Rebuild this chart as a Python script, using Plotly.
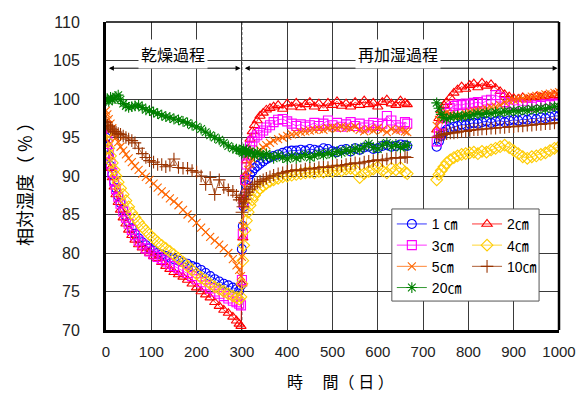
import plotly.graph_objects as go

# Measurement days: drying phase, re-wetting phase (part 1), re-wetting phase (part 2)
days_dry = [0, 3, 6, 10, 14, 18, 22, 27, 32, 38, 44, 50, 57, 64, 72, 80, 88, 96, 105, 114,
            123, 132, 141, 150, 160, 170, 180, 190, 200, 210, 220, 230, 240, 250, 260, 270,
            280, 288, 294, 298]
days_wet1 = [300, 302, 304, 307, 310, 314, 318, 323, 328, 334, 340, 347, 354, 362, 370, 380,
             390, 400, 410, 420, 430, 440, 450, 460, 470, 480, 490, 500, 510, 520, 530, 540,
             550, 560, 570, 580, 590, 600, 610, 620, 630, 640, 650, 660, 665]
days_wet2 = [730, 735, 740, 746, 752, 760, 768, 776, 785, 794, 803, 812, 821, 830, 840, 850,
             860, 870, 880, 890, 900, 910, 920, 930, 940, 950, 960, 970, 980, 990, 1000]

# Relative humidity (%) by depth
rh_1cm_dry = [95.0, 93.8, 92.6, 91.3, 90.2, 89.3, 88.4, 87.4, 86.5, 85.6, 84.8, 84.0, 83.2, 82.5,
              81.9, 81.4, 81.0, 80.6, 80.3, 80.0, 79.8, 79.6, 79.4, 79.2, 79.0, 78.8, 78.6, 78.3,
              78.1, 77.8, 77.4, 77.0, 76.6, 76.3, 76.0, 75.8, 75.5, 75.3, 75.1, 75.8]
rh_1cm_wet1 = [80.5, 83.5, 86.0, 87.8, 88.8, 89.6, 90.2, 90.6, 91.0, 91.3, 91.6, 91.9, 92.2, 92.4,
               92.6, 92.8, 93.0, 93.2, 93.3, 93.3, 93.4, 93.3, 93.5, 93.4, 93.3, 93.6, 93.5, 93.2,
               93.1, 93.4, 93.5, 93.2, 93.6, 93.4, 93.7, 93.8, 93.5, 93.6, 93.9, 94.0, 93.8, 93.9,
               94.1, 94.0, 93.9]
rh_1cm_wet2 = [93.8, 94.5, 95.2, 95.7, 96.0, 96.2, 96.4, 96.5, 96.7, 96.6, 96.8, 96.9, 96.8, 97.0,
               97.1, 96.9, 97.1, 97.2, 97.0, 97.2, 97.3, 97.2, 97.4, 97.3, 97.5, 97.4, 97.6, 97.5,
               97.7, 97.8, 97.8]

rh_2cm_dry = [96.0, 94.2, 92.6, 91.0, 89.8, 88.6, 87.6, 86.6, 85.6, 84.6, 83.8, 83.0, 82.3, 81.7,
              81.1, 80.7, 80.3, 80.0, 79.6, 79.3, 78.8, 78.3, 77.9, 77.5, 77.2, 76.9, 76.5, 76.0,
              75.5, 75.0, 74.6, 74.2, 73.6, 73.1, 72.6, 72.2, 71.7, 71.2, 70.8, 70.5]
rh_2cm_wet1 = [76.0, 82.0, 87.0, 90.0, 92.0, 93.5, 94.8, 95.8, 96.6, 97.2, 97.8, 98.2, 98.6, 98.8,
               99.0, 99.2, 98.7, 99.4, 99.0, 99.5, 98.9, 99.3, 99.6, 99.0, 99.4, 98.8, 99.5, 99.2,
               99.7, 99.1, 99.4, 99.0, 99.6, 99.2, 99.8, 99.3, 99.5, 99.0, 99.6, 99.9, 99.4, 99.2,
               99.8, 99.5, 99.3]
rh_2cm_wet2 = [96.0, 97.5, 98.5, 99.2, 99.6, 100.2, 100.8, 101.2, 101.6, 101.3, 101.8, 102.0,
               101.5, 102.1, 101.7, 101.9, 101.4, 101.0, 100.6, 100.3, 100.1, 100.0, 100.2, 99.9,
               100.1, 100.3, 100.2, 100.4, 100.3, 100.5, 100.4]

rh_3cm_dry = [96.5, 94.5, 93.0, 91.6, 90.4, 89.3, 88.3, 87.3, 86.4, 85.4, 84.6, 83.8, 83.0, 82.3,
              81.6, 81.1, 80.6, 80.2, 79.8, 79.5, 79.2, 78.9, 78.6, 78.3, 78.0, 77.7, 77.4, 77.0,
              76.6, 76.2, 75.8, 75.4, 75.0, 74.7, 74.4, 74.1, 73.8, 73.6, 73.4, 73.2]
rh_3cm_wet1 = [76.5, 82.5, 86.5, 89.5, 91.5, 92.8, 93.8, 94.5, 95.0, 95.3, 95.6, 95.9, 96.3, 96.6,
               97.0, 97.3, 97.4, 97.1, 96.8, 96.5, 96.7, 96.4, 96.6, 96.9, 96.5, 96.8, 97.2, 96.6,
               96.9, 96.4, 96.7, 97.0, 96.5, 96.8, 96.3, 96.6, 96.9, 96.5, 96.8, 97.8, 97.2, 96.6,
               96.3, 97.0, 96.8]
rh_3cm_wet2 = [94.5, 95.5, 96.5, 97.5, 98.2, 98.8, 99.1, 99.3, 99.2, 99.4, 99.3, 99.5, 99.6, 99.4,
               99.8, 99.9, 100.5, 100.2, 99.6, 99.4, 99.2, 99.3, 99.1, 99.2, 99.0, 99.2, 99.1, 99.3,
               99.2, 99.4, 99.3]

rh_4cm_dry = [95.5, 94.5, 93.6, 92.6, 91.7, 90.8, 90.0, 89.2, 88.4, 87.6, 86.8, 86.0, 85.2, 84.6,
              84.0, 83.4, 82.9, 82.4, 81.9, 81.4, 81.0, 80.6, 80.2, 79.8, 79.3, 78.8, 78.3, 77.8,
              77.3, 76.8, 76.4, 76.0, 75.6, 75.3, 75.0, 74.7, 74.4, 74.2, 74.0, 74.3]
rh_4cm_wet1 = [76.0, 79.0, 81.0, 83.0, 84.2, 85.3, 86.2, 86.9, 87.5, 88.0, 88.4, 88.7, 89.0, 89.3,
               89.5, 89.7, 89.9, 90.0, 90.1, 90.2, 90.3, 90.4, 90.5, 90.4, 90.6, 90.5, 90.7, 90.6,
               90.8, 90.7, 90.9, 91.0, 90.8, 89.8, 90.3, 90.6, 90.9, 91.2, 90.7, 90.4, 91.0, 90.8,
               91.1, 90.5, 90.3]
rh_4cm_wet2 = [89.5, 90.2, 90.7, 91.2, 91.7, 92.1, 92.4, 92.6, 92.8, 92.9, 93.0, 93.1, 92.9, 93.2,
               93.1, 93.4, 93.6, 93.8, 94.0, 93.7, 93.3, 92.9, 92.5, 92.3, 92.5, 92.6, 92.8, 93.0,
               93.3, 93.6, 93.8]

rh_5cm_dry = [98.5, 98.0, 97.4, 96.8, 96.2, 95.6, 95.0, 94.4, 93.8, 93.3, 92.8, 92.3, 91.8, 91.3,
              90.8, 90.3, 89.9, 89.5, 89.0, 88.5, 88.0, 87.6, 87.1, 86.7, 86.2, 85.6, 85.0, 84.5,
              83.9, 83.3, 82.7, 82.1, 81.6, 81.1, 80.6, 80.0, 79.2, 78.4, 77.8, 77.0]
rh_5cm_wet1 = [79.5, 83.5, 86.5, 88.5, 89.8, 90.8, 91.6, 92.2, 92.7, 93.1, 93.4, 93.7, 94.0, 94.3,
               94.6, 94.8, 95.0, 95.2, 95.4, 95.5, 95.7, 95.8, 95.9, 96.0, 96.1, 96.0, 96.2, 96.3,
               96.2, 96.4, 96.3, 96.2, 96.4, 96.0, 95.8, 96.1, 95.9, 96.2, 96.0, 95.7, 96.1, 95.9,
               96.0, 95.8, 95.7]
rh_5cm_wet2 = [96.5, 97.3, 97.8, 98.0, 98.2, 98.0, 97.8, 97.7, 97.9, 98.1, 98.3, 98.4, 98.5, 98.6,
               98.7, 98.9, 99.0, 99.2, 99.6, 99.8, 99.9, 100.0, 100.1, 100.2, 100.3, 100.4, 100.5,
               100.6, 100.7, 100.8, 100.9]

rh_10cm_dry = [97.0, 96.6, 96.4, 96.2, 96.0, 95.8, 95.7, 95.5, 95.4, 95.2, 95.0, 94.8, 94.6, 94.3,
               93.6, 92.9, 92.4, 92.0, 91.8, 91.5, 91.5, 91.2, 91.4, 92.2, 91.1, 91.0, 91.0, 90.7,
               90.5, 90.0, 88.9, 89.8, 87.6, 89.5, 88.5, 88.2, 88.0, 87.5, 86.9, 87.2]
rh_10cm_wet1 = [85.3, 86.0, 86.5, 87.0, 87.5, 87.9, 88.3, 88.6, 88.9, 89.1, 89.3, 89.5, 89.7, 89.9,
                90.1, 90.3, 90.4, 90.6, 90.7, 90.8, 90.7, 90.9, 91.0, 90.9, 91.1, 91.2, 91.1, 91.3,
                91.4, 91.3, 91.5, 91.6, 91.7, 91.6, 91.8, 91.9, 92.0, 92.1, 92.0, 92.2, 92.3, 92.4,
                92.3, 92.5, 92.4]
rh_10cm_wet2 = [95.0, 95.2, 95.3, 95.4, 95.5, 95.6, 95.6, 95.7, 95.8, 95.8, 95.9, 96.0, 96.0, 96.1,
                96.1, 96.2, 96.2, 96.3, 96.3, 96.4, 96.4, 96.5, 96.5, 96.6, 96.6, 96.7, 96.7, 96.8,
                96.8, 96.9, 96.9]

rh_20cm_dry = [99.8, 100.0, 99.7, 100.2, 99.9, 100.1, 100.3, 100.5, 99.9, 99.4, 99.1, 98.9, 99.0,
               99.1, 99.2, 98.9, 98.6, 98.5, 98.3, 98.1, 97.9, 97.7, 97.6, 97.4, 97.3, 97.1, 96.9,
               96.6, 96.4, 96.1, 95.7, 95.3, 95.0, 94.7, 94.3, 93.9, 93.6, 93.5, 93.4, 93.3]
rh_20cm_wet1 = [93.2, 93.0, 93.5, 93.1, 93.4, 92.9, 93.2, 93.0, 92.6, 93.1, 92.8, 92.5, 92.9, 92.6,
                92.3, 92.7, 92.4, 92.2, 92.6, 92.3, 92.5, 92.8, 92.4, 92.6, 92.9, 92.7, 93.0, 92.8,
                93.2, 93.0, 93.4, 93.2, 93.6, 93.4, 93.8, 94.2, 93.7, 93.5, 94.0, 94.3, 93.8, 94.1,
                93.7, 93.9, 94.0]
rh_20cm_wet2 = [99.5, 98.8, 98.0, 97.6, 97.4, 97.6, 97.7, 97.8, 97.7, 97.9, 97.8, 98.0, 98.1, 98.0,
                98.2, 98.1, 98.3, 98.2, 98.4, 98.3, 98.5, 98.4, 98.6, 98.5, 98.7, 98.6, 98.8, 98.7,
                98.9, 99.0, 99.0]

depth_labels = ["1 ㎝", "2㎝", "3㎝", "4㎝", "5㎝", "10㎝", "20㎝"]
series_dry = [rh_1cm_dry, rh_2cm_dry, rh_3cm_dry, rh_4cm_dry, rh_5cm_dry, rh_10cm_dry, rh_20cm_dry]
series_wet1 = [rh_1cm_wet1, rh_2cm_wet1, rh_3cm_wet1, rh_4cm_wet1, rh_5cm_wet1, rh_10cm_wet1, rh_20cm_wet1]
series_wet2 = [rh_1cm_wet2, rh_2cm_wet2, rh_3cm_wet2, rh_4cm_wet2, rh_5cm_wet2, rh_10cm_wet2, rh_20cm_wet2]

colors = ["#0000FF", "#FF0000", "#FF00FF", "#FFCC00", "#FF6600", "#993300", "#008000"]
symbols = ["circle-open", "triangle-up-open", "square-open", "diamond-open",
           "x-thin-open", "cross-thin-open", "asterisk-open"]
sizes = [9, 9, 9, 9, 8, 9, 9]
legend_ids = ["legend", "legend2", "legend", "legend2", "legend", "legend2", "legend"]

TICK_FONT = "Liberation Sans, Arial, sans-serif"
JP_FONT = "Noto Sans CJK JP, sans-serif"

fig = go.Figure()
for i, name in enumerate(depth_labels):
    # a None between the two re-wetting periods breaks the line across the gap
    x = days_dry + days_wet1 + [None] + days_wet2
    y = series_dry[i] + series_wet1[i] + [None] + series_wet2[i]
    fig.add_trace(go.Scatter(
        x=x, y=y, name=name, mode="lines+markers", legend=legend_ids[i],
        connectgaps=False,
        line=dict(color=colors[i], width=0.8),
        marker=dict(symbol=symbols[i], size=sizes[i], color=colors[i],
                    line=dict(color=colors[i], width=1.1)),
    ))

grid = "#3a3a3a"
fig.update_xaxes(
    range=[0, 1000], dtick=100, tick0=0,
    showgrid=True, gridcolor=grid, gridwidth=1,
    showline=True, linecolor="black", linewidth=3,
    ticks="", ticklabelstandoff=6,
    tickfont=dict(family=TICK_FONT, size=15, color="#222"),
    zeroline=False,
)
fig.update_yaxes(
    range=[70, 110], dtick=5, tick0=70,
    showgrid=True, gridcolor=grid, gridwidth=1,
    showline=True, linecolor="black", linewidth=3,
    ticks="", ticklabelstandoff=20,
    tickfont=dict(family=TICK_FONT, size=16, color="#222"),
    zeroline=False,
)

shapes = [
    # hide the solid grid line at day 300 and mark the phase change with a dashed line
    dict(type="line", xref="x", yref="paper", x0=300, x1=300, y0=0, y1=1,
         line=dict(color="white", width=2), layer="between"),
    dict(type="line", xref="x", yref="paper", x0=300, x1=300, y0=0, y1=1,
         line=dict(color="#444", width=1, dash="3px,2px"), layer="between"),
    # frame top and right
    dict(type="line", xref="paper", yref="paper", x0=0, x1=1, y0=1, y1=1,
         line=dict(color="black", width=1.5), layer="above"),
    dict(type="line", xref="paper", yref="paper", x0=1, x1=1, y0=0, y1=1,
         line=dict(color="black", width=2.5), layer="above"),
    # legend box
    dict(type="rect", xref="paper", yref="paper", x0=0.631, x1=0.956, y0=0.094, y1=0.393,
         fillcolor="white", line=dict(color="#555", width=1), layer="above"),
]

annotations = [
    # phase arrows
    dict(x=297, y=104, ax=3, ay=104, xref="x", yref="y", axref="x", ayref="y",
         text="", showarrow=True, arrowhead=2, arrowside="end+start",
         arrowsize=1, arrowwidth=1, arrowcolor="black"),
    dict(x=997, y=104, ax=303, ay=104, xref="x", yref="y", axref="x", ayref="y",
         text="", showarrow=True, arrowhead=2, arrowside="end+start",
         arrowsize=1, arrowwidth=1, arrowcolor="black"),
    dict(x=148, y=105.9, xref="x", yref="y", text="乾燥過程", showarrow=False,
         font=dict(family=JP_FONT, size=16, color="black"), bgcolor="white", borderpad=2),
    dict(x=645, y=105.9, xref="x", yref="y", text="再加湿過程", showarrow=False,
         font=dict(family=JP_FONT, size=16, color="black"), bgcolor="white", borderpad=2),
    # axis titles
    dict(x=0.518, y=0, xref="paper", yref="paper", yanchor="middle", yshift=-51,
         text="時　 間（ 日 ）", showarrow=False,
         font=dict(family=JP_FONT, size=16, color="black")),
    dict(x=-0.181, y=0.487, xref="paper", yref="paper", xanchor="center", yanchor="middle",
         text="相対湿度（ % ）", textangle=-90, showarrow=False,
         font=dict(family=JP_FONT, size=18, color="black")),
]

legend_style = dict(
    bgcolor="rgba(0,0,0,0)", borderwidth=0, itemwidth=30,
    font=dict(family="Liberation Sans, Noto Sans CJK JP, sans-serif", size=14, color="black"),
    xanchor="left", yanchor="top", tracegroupgap=0,
)

fig.update_layout(
    width=580, height=394,
    # fixed margins: the two legend columns sit inside the plot and must not resize it
    margin=dict(l=106, r=21, t=22, b=64, autoexpand=False),
    paper_bgcolor="white", plot_bgcolor="white",
    showlegend=True,
    legend=dict(x=0.631, y=0.395, **legend_style),
    legend2=dict(x=0.797, y=0.395, **legend_style),
    shapes=shapes,
    annotations=annotations,
)

fig.write_html("out.html")
